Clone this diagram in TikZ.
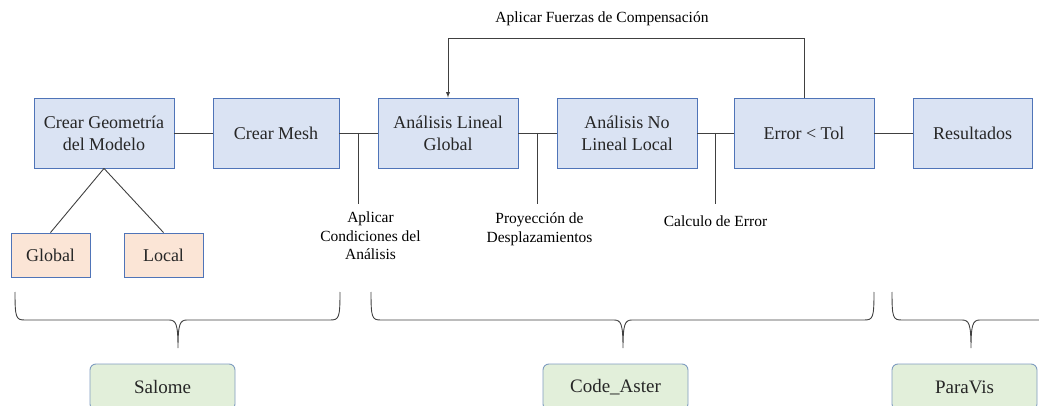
\documentclass[tikz,border=0pt]{standalone}
\usepackage{fontspec}
\setmainfont{Liberation Serif}
\newfontfamily\boxfont{Liberation Serif}
\usepackage{tikz}
\usetikzlibrary{positioning,calc}

\definecolor{boxblue}{HTML}{DAE3F3}
\definecolor{boxedge}{HTML}{4F74B8}
\definecolor{peach}{HTML}{FBE5D6}
\definecolor{softgreen}{HTML}{E2EFDA}
\definecolor{greenedge}{HTML}{7F9CC0}
\definecolor{linegray}{HTML}{404040}
\definecolor{textgray}{HTML}{262626}

\begin{document}
\begin{tikzpicture}[x=1pt,y=-1pt,
  stage/.style={draw=boxedge,fill=boxblue,line width=0.9pt,minimum width=140pt,minimum height=70pt,align=center,text=textgray,font=\boxfont\fontsize{18}{22}\selectfont},
  part/.style={draw=boxedge,fill=peach,line width=0.9pt,minimum width=79pt,minimum height=44pt,text=textgray,font=\boxfont\fontsize{18}{22}\selectfont},
  tool/.style={draw=greenedge,fill=softgreen,line width=0.9pt,rounded corners=6pt,minimum width=145pt,minimum height=46pt,text=textgray,font=\boxfont\fontsize{19}{22}\selectfont},
  note/.style={align=center,inner sep=0pt,font=\boxfont\fontsize{15.5}{18.5}\selectfont},
  link/.style={draw=linegray,line width=0.9pt}]

\useasboundingbox (0,0) rectangle (1039,406);
\clip (0,0) rectangle (1039,406);

\node[stage] (geo) at (104,133) {Crear Geometría\\del Modelo};
\node[stage,minimum width=126pt] (mesh) at (276,133) {Crear Mesh};
\node[stage] (lin) at (448,133) {Análisis Lineal\\Global};
\node[stage] (nolin) at (627,133) {Análisis No\\Lineal Local};
\node[stage] (err) at (804,133) {Error < Tol};
\node[stage,minimum width=119pt] (res) at (972.5,133) {Resultados};

\node[part] (glob) at (50.5,255) {Global};
\node[part] (loc) at (163.5,255) {Local};

\foreach \a/\b in {geo/mesh, mesh/lin, lin/nolin, nolin/err, err/res}
    \draw[link] (\a) -- (\b);

\draw[link] (geo.south) -- (glob.north);
\draw[link] (geo.south) -- (loc.north);

\foreach \a/\b/\n in {mesh/lin/t1, lin/nolin/t2, nolin/err/t3} {
    \coordinate (\n) at ($(\a.east)!0.5!(\b.west)$);
    \draw[link] (\n) -- ++(0,71) coordinate (\n end);
}

\node[note,below=8pt of t1end,xshift=12pt] (cond) {Aplicar\\Condiciones del\\Análisis};
\node[note,below=9pt of t2end,xshift=2pt] (proy) {Proyección de\\Desplazamientos};
\node[note,below=12pt of t3end] (calc) {Calculo de Error};

\draw[link,-latex] (err.north) -- ++(0,-59) -| (lin.north);
\node[note,anchor=base] (comp) at (602,23) {Aplicar Fuerzas de Compensación};

\foreach \a/\m/\b in {15/178/340, 371/623/874, 892/971/1060}
    \draw[link] (\a,292) .. controls (\a,318) and (\a+1,320) .. (\a+10,320) -- (\m-9,320)
        .. controls (\m-2,320) and (\m,324) .. (\m,348) .. controls (\m,324) and (\m+2,320) .. (\m+9,320)
        -- (\b-10,320) .. controls (\b-1,320) and (\b,318) .. (\b,292);

\node[tool] (salome) at (162.5,387) {Salome};
\node[tool] (aster) at (615.5,387) {Code\_Aster};
\node[tool] (paravis) at (964.5,387) {ParaVis};
\end{tikzpicture}
\end{document}
